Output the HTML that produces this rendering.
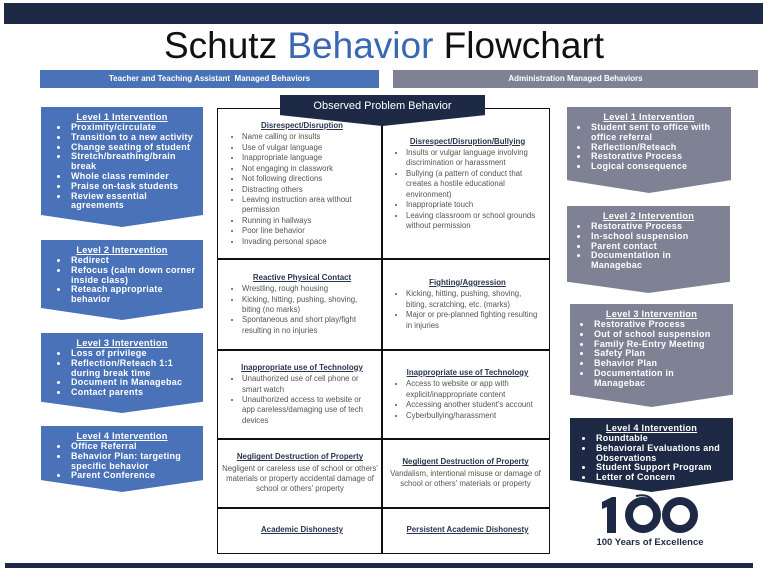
<!DOCTYPE html>
<html><head><meta charset="utf-8"><style>
*{margin:0;padding:0;box-sizing:border-box}
body{width:768px;height:573px;background:#fff;position:relative;overflow:hidden;font-family:"Liberation Sans",sans-serif}
.a{position:absolute}
.arr{position:absolute;color:#fff;font-weight:bold;font-size:9px;line-height:9.8px;padding-top:5px;letter-spacing:0.25px}
.arr h4{text-align:center;text-decoration:underline;font-size:9.2px;line-height:11px}
.arr ul{margin-left:28px;padding-left:0;margin-right:4px}
.arr li{padding-left:2px}
.r ul{margin-right:16px}
.blue{background:#4a72b9}.gray{background:#7e8294}.navy{background:#1e2a45}
.cell{position:absolute;border:1.5px solid #111;display:flex;flex-direction:column;justify-content:center;color:#555;font-size:7.8px;line-height:10.4px;padding:0 8px 0 12px}
.cell h5{text-align:center;text-decoration:underline;color:#2a3550;font-size:7.9px;margin-bottom:1px}
.cell ul{padding-left:12px}
.cell p{text-align:center}
</style></head><body>
<div class="a navy" style="left:4px;top:3px;width:759px;height:21px"></div>
<div class="a" style="left:0;top:25px;width:768px;text-align:center;font-size:37px;line-height:42px;color:#111">Schutz <span style="color:#3a67b4">Behavior</span> Flowchart</div>
<div class="a blue" style="left:40px;top:70px;width:339px;height:18px;color:#fff;font-weight:bold;font-size:8px;text-align:center;line-height:18px">Teacher and Teaching Assistant &nbsp;Managed Behaviors</div>
<div class="a gray" style="left:393px;top:70px;width:365px;height:18px;color:#fff;font-weight:bold;font-size:8px;text-align:center;line-height:18px">Administration Managed Behaviors</div>

<div class="arr blue" style="left:41px;top:107px;width:162px;height:120px;clip-path:polygon(0 0,100% 0,100% 90%,50% 100%,0 90%)"><h4>Level 1 Intervention</h4><ul><li>Proximity/circulate</li><li>Transition to a new activity</li><li>Change seating of student</li><li>Stretch/breathing/brain break</li><li>Whole class reminder</li><li>Praise on-task students</li><li>Review essential agreements</li></ul></div>
<div class="arr blue" style="left:41px;top:240px;width:162px;height:80px;clip-path:polygon(0 0,100% 0,100% 85%,50% 100%,0 85%)"><h4>Level 2 Intervention</h4><ul><li>Redirect</li><li>Refocus (calm down corner inside class)</li><li>Reteach appropriate behavior</li></ul></div>
<div class="arr blue" style="left:41px;top:333px;width:162px;height:80px;clip-path:polygon(0 0,100% 0,100% 86%,50% 100%,0 86%)"><h4>Level 3 Intervention</h4><ul><li>Loss of privilege</li><li>Reflection/Reteach 1:1 during break time</li><li>Document in Managebac</li><li>Contact parents</li></ul></div>
<div class="arr blue" style="left:41px;top:426px;width:162px;height:66px;clip-path:polygon(0 0,100% 0,100% 82%,50% 100%,0 82%)"><h4>Level 4 Intervention</h4><ul><li>Office Referral</li><li>Behavior Plan: targeting specific behavior</li><li>Parent Conference</li></ul></div>

<div class="arr gray r" style="left:567px;top:107px;width:164px;height:86px;clip-path:polygon(0 0,100% 0,100% 85%,50% 100%,0 85%)"><h4>Level 1 Intervention</h4><ul style="margin-left:22px"><li>Student sent to office with office referral</li><li>Reflection/Reteach</li><li>Restorative Process</li><li>Logical consequence</li></ul></div>
<div class="arr gray r" style="left:567px;top:206px;width:163px;height:87px;clip-path:polygon(0 0,100% 0,100% 87%,50% 100%,0 87%)"><h4>Level 2 Intervention</h4><ul style="margin-left:22px"><li>Restorative Process</li><li>In-school suspension</li><li>Parent contact</li><li>Documentation in Managebac</li></ul></div>
<div class="arr gray r" style="left:570px;top:304px;width:163px;height:103px;clip-path:polygon(0 0,100% 0,100% 88%,50% 100%,0 88%)"><h4>Level 3 Intervention</h4><ul style="margin-left:22px"><li>Restorative Process</li><li>Out of school suspension</li><li>Family Re-Entry Meeting</li><li>Safety Plan</li><li>Behavior Plan</li><li>Documentation in Managebac</li></ul></div>
<div class="arr navy" style="left:570px;top:418px;width:163px;height:74px;clip-path:polygon(0 0,100% 0,100% 84%,50% 100%,0 84%)"><h4>Level 4 Intervention</h4><ul style="margin-left:24px"><li>Roundtable</li><li>Behavioral Evaluations and Observations</li><li>Student Support Program</li><li>Letter of Concern</li></ul></div>

<svg class="a" style="left:590px;top:490px" width="120" height="50">
<path d="M12 12 L22 7 L26 7 L26 43 L17 43 L17 17 L12 19Z" fill="#1e2a45"/>
<circle cx="53" cy="25" r="14" fill="none" stroke="#1e2a45" stroke-width="8"/>
<circle cx="90" cy="25" r="14" fill="none" stroke="#1e2a45" stroke-width="8"/>
<path d="M46 6 Q62 2 66 18" fill="none" stroke="#1e2a45" stroke-width="2"/>
</svg>
<div class="a" style="left:590px;top:537px;width:120px;text-align:center;font-size:9.5px;font-weight:bold;color:#1e2a45">100 Years of Excellence</div>

<div class="cell" style="left:217px;top:108px;width:166px;height:152px"><h5>Disrespect/Disruption</h5><ul><li>Name calling or insults</li><li>Use of vulgar language</li><li>Inappropriate language</li><li>Not engaging in classwork</li><li>Not following directions</li><li>Distracting others</li><li>Leaving instruction area without permission</li><li>Running in hallways</li><li>Poor line behavior</li><li>Invading personal space</li></ul></div>
<div class="cell" style="left:381px;top:108px;width:169px;height:152px"><h5>Disrespect/Disruption/Bullying</h5><ul><li>Insults or vulgar language involving discrimination or harassment</li><li>Bullying (a pattern of conduct that creates a hostile educational environment)</li><li>Inappropriate touch</li><li>Leaving classroom or school grounds without permission</li></ul></div>
<div class="cell" style="left:217px;top:258px;width:166px;height:93px"><h5>Reactive Physical Contact</h5><ul><li>Wrestling, rough housing</li><li>Kicking, hitting, pushing, shoving, biting (no marks)</li><li>Spontaneous and short play/fight resulting in no injuries</li></ul></div>
<div class="cell" style="left:381px;top:258px;width:169px;height:93px"><h5>Fighting/Aggression</h5><ul><li>Kicking, hitting, pushing, shoving, biting, scratching, etc. (marks)</li><li>Major or pre-planned fighting resulting in injuries</li></ul></div>
<div class="cell" style="left:217px;top:349px;width:166px;height:91px"><h5>Inappropriate use of Technology</h5><ul><li>Unauthorized use of cell phone or smart watch</li><li>Unauthorized access to website or app careless/damaging use of tech devices</li></ul></div>
<div class="cell" style="left:381px;top:349px;width:169px;height:91px"><h5>Inappropriate use of Technology</h5><ul><li>Access to website or app with explicit/inappropriate content</li><li>Accessing another student's account</li><li>Cyberbullying/harassment</li></ul></div>
<div class="cell" style="left:217px;top:438px;width:166px;height:71px;padding:0 4px"><h5>Negligent Destruction of Property</h5><p>Negligent or careless use of school or others' materials or property accidental damage of school or others' property</p></div>
<div class="cell" style="left:381px;top:438px;width:169px;height:71px;padding:0 4px"><h5>Negligent Destruction of Property</h5><p>Vandalism, intentional misuse or damage of school or others' materials or property</p></div>
<div class="cell" style="left:217px;top:507px;width:166px;height:47px"><h5>Academic Dishonesty</h5></div>
<div class="cell" style="left:381px;top:507px;width:169px;height:47px"><h5>Persistent Academic Dishonesty</h5></div>

<div class="a navy" style="left:280px;top:95px;width:205px;height:31px;clip-path:polygon(0 0,100% 0,100% 65%,50% 100%,0 65%);color:#fff;font-size:11px;text-align:center;padding-top:5px">Observed Problem Behavior</div>

<div class="a navy" style="left:5px;top:563px;width:748px;height:5px"></div>
</body></html>
